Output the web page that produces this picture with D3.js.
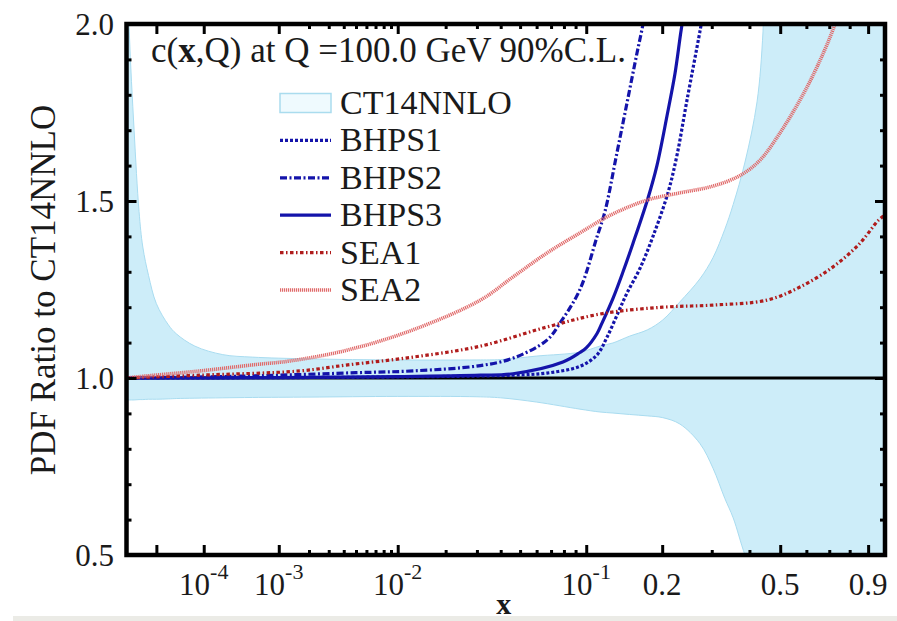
<!DOCTYPE html>
<html>
<head>
<meta charset="utf-8">
<script src="https://cdn.jsdelivr.net/npm/d3@7"></script>
<style>
  body { margin: 0; background: #fff; }
</style>
</head>
<body>
<svg id="chart" width="897" height="621"></svg>
<script>
// CT14NNLO 90% C.L. band (upper / lower edge), ratio to central fit
const bandX = [1e-6, 1.3e-6, 2e-6, 3e-6, 4e-6, 6e-6, 1e-5, 2e-5, 3e-5, 7e-5, 2e-4, 5e-4, 2e-3, 0.01, 0.03, 0.04, 0.06,
  0.094, 0.114, 0.129, 0.15, 0.176, 0.201, 0.232, 0.273, 0.303, 0.332, 0.354, 0.387, 0.423, 0.442, 0.452, 0.5, 1.0];
const bandUpper = [2.30, 1.98, 1.70, 1.47, 1.37, 1.29, 1.21, 1.15, 1.125, 1.09, 1.066, 1.059, 1.054, 1.051, 1.051, 1.052, 1.062,
  1.073, 1.090, 1.099, 1.118, 1.136, 1.164, 1.215, 1.28, 1.34, 1.42, 1.49, 1.61, 1.78, 1.98, 2.3, 2.3, 2.3];
const bandLower = [0.938, 0.938, 0.938, 0.939, 0.939, 0.940, 0.940, 0.941, 0.942, 0.943, 0.944, 0.945, 0.946, 0.948, 0.947, 0.944, 0.932,
  0.912, 0.904, 0.901, 0.897, 0.893, 0.888, 0.870, 0.815, 0.745, 0.66, 0.605, 0.50, 0.42, 0.38, 0.36, 0.30, 0.30];

const bhps1X = [1e-6, 1e-3, 0.01, 0.046, 0.067, 0.094, 0.1109, 0.122, 0.1364, 0.1468, 0.165, 0.1848, 0.21, 0.2266, 0.246, 0.2733, 0.2845];
const bhps1Y = [1.0, 1.001, 1.003, 1.008, 1.014, 1.033, 1.065, 1.115, 1.19, 1.24, 1.31, 1.40, 1.523, 1.63, 1.785, 1.98, 2.06];

const bhps2X = [1e-6, 1e-4, 1e-3, 5e-3, 0.0126, 0.0313, 0.0461, 0.067, 0.0768, 0.094, 0.1109, 0.1197, 0.1339, 0.1468, 0.1606, 0.1694, 0.18];
const bhps2Y = [1.0, 1.003, 1.008, 1.015, 1.02, 1.035, 1.056, 1.107, 1.155, 1.25, 1.398, 1.47, 1.636, 1.777, 1.918, 2.0, 2.12];

const bhps3X = [1e-6, 1e-3, 0.01, 0.0313, 0.0461, 0.0792, 0.094, 0.1, 0.1109, 0.1164, 0.1291, 0.1416, 0.1549, 0.1769, 0.1912, 0.2083, 0.2228, 0.2342, 0.2421];
const bhps3Y = [1.0, 1.001, 1.004, 1.008, 1.012, 1.045, 1.072, 1.085, 1.125, 1.155, 1.225, 1.30, 1.38, 1.508, 1.60, 1.74, 1.86, 1.98, 2.05];

const sea1X = [1e-6, 8.6e-5, 1.64e-3, 4.3e-3, 0.0126, 0.0313, 0.067, 0.117, 0.201, 0.303, 0.455, 0.574, 0.718, 0.855, 0.961, 1.0];
const sea1Y = [1.0, 1.008, 1.02, 1.037, 1.059, 1.09, 1.144, 1.182, 1.200, 1.206, 1.22, 1.257, 1.314, 1.381, 1.446, 1.46];

const sea2X = [1e-6, 3.2e-6, 8.6e-5, 5.5e-4, 1.3e-3, 4.3e-3, 0.0126, 0.0313, 0.046, 0.067, 0.094, 0.122, 0.151, 0.18, 0.232,
  0.303, 0.373, 0.432, 0.499, 0.574, 0.645, 0.727, 0.8];
const sea2Y = [1.0, 1.004, 1.02, 1.038, 1.048, 1.079, 1.136, 1.22, 1.285, 1.353, 1.41, 1.455, 1.485, 1.505, 1.523,
  1.542, 1.572, 1.615, 1.692, 1.785, 1.879, 2.0, 2.15];

const xMajorTicks = [1e-5, 1e-4, 1e-3, 1e-2, 0.1, 0.2, 0.5, 0.9];
const xMinorTicks = [2e-3, 3e-3, 4e-3, 5e-3, 6e-3, 7e-3, 8e-3, 9e-3, 0.02, 0.03, 0.04, 0.05, 0.06, 0.07, 0.08, 0.09, 0.3, 0.4, 0.6, 0.7, 0.8];
const xLabelValues = [1e-4, 1e-3, 1e-2, 0.1, 0.2, 0.5, 0.9];
const xLabelBase = ["10", "10", "10", "10", "0.2", "0.5", "0.9"];
const xLabelExp = ["-4", "-3", "-2", "-1", "", "", ""];
const yMajorTicks = [0.5, 1.0, 1.5, 2.0];
const yMinorTicks = [0.6, 0.7, 0.8, 0.9, 1.1, 1.2, 1.3, 1.4, 1.6, 1.7, 1.8, 1.9];

const serif = "'Liberation Serif', 'DejaVu Serif', 'Noto Serif', Tinos, 'Times New Roman', Times, 'Nimbus Roman', FreeSerif, serif";
const svg = d3.select("#chart").style("font-family", serif);
const margin = { left: 126.5, right: 885, top: 24, bottom: 555 };

const x = d3.scalePow().exponent(0.2).domain([1e-6, 1]).range([margin.left, margin.right]);
const y = d3.scaleLinear().domain([0.5, 2.0]).range([margin.bottom, margin.top]);

svg.append("defs").append("clipPath").attr("id", "plotClip").append("rect")
  .attr("x", margin.left).attr("y", margin.top).attr("width", margin.right - margin.left).attr("height", margin.bottom - margin.top);

const plot = svg.append("g").attr("clip-path", "url(#plotClip)");

const area = d3.area().x((d, i) => x(bandX[i])).y0((d, i) => y(bandLower[i])).y1((d, i) => y(bandUpper[i]))
  .curve(d3.curveCatmullRom.alpha(0.5));
plot.append("path").attr("d", area(bandX)).attr("fill", "#cdedf9").attr("stroke", "#a9dcf0").attr("stroke-width", 1);

// reference line at 1
plot.append("line").attr("x1", margin.left).attr("x2", margin.right).attr("y1", y(1)).attr("y2", y(1))
  .attr("stroke", "#000").attr("stroke-width", 3);

const series = [
  { name: "BHPS1", xs: bhps1X, ys: bhps1Y, color: "#1414aa", width: 3.2, dash: "3,2" },
  { name: "BHPS2", xs: bhps2X, ys: bhps2Y, color: "#1414aa", width: 3.2, dash: "7,2.5,2,2.5" },
  { name: "BHPS3", xs: bhps3X, ys: bhps3Y, color: "#1414aa", width: 3.2, dash: null },
  { name: "SEA1", xs: sea1X, ys: sea1Y, color: "#b01c1c", width: 3.2, dash: "3.5,2.5,1.5,2.5" },
  { name: "SEA2", xs: sea2X, ys: sea2Y, color: "#e06a6a", width: 3.6, dash: "1.2,0.8" }
];

const line = d3.line().x(d => x(d[0])).y(d => y(d[1])).curve(d3.curveCatmullRom.alpha(0.5));
series.forEach(s => {
  plot.append("path").attr("d", line(d3.zip(s.xs, s.ys))).attr("fill", "none")
    .attr("stroke", s.color).attr("stroke-width", s.width).attr("stroke-dasharray", s.dash);
});

// ticks on all four sides, pointing inward
function drawTicks(axis, values, size, transform) {
  const g = svg.append("g").attr("transform", transform)
    .call(axis.tickValues(values).tickSize(-size).tickFormat(""));
  g.select(".domain").remove();
  g.selectAll(".tick line").attr("stroke", "#000").attr("stroke-width", 3);
}
drawTicks(d3.axisBottom(x), xMajorTicks, 10, `translate(0,${margin.bottom})`);
drawTicks(d3.axisBottom(x), xMinorTicks, 5, `translate(0,${margin.bottom})`);
drawTicks(d3.axisTop(x), xMajorTicks, 10, `translate(0,${margin.top})`);
drawTicks(d3.axisTop(x), xMinorTicks, 5, `translate(0,${margin.top})`);
drawTicks(d3.axisLeft(y), yMajorTicks, 10, `translate(${margin.left},0)`);
drawTicks(d3.axisLeft(y), yMinorTicks, 5, `translate(${margin.left},0)`);
drawTicks(d3.axisRight(y), yMajorTicks, 10, `translate(${margin.right},0)`);
drawTicks(d3.axisRight(y), yMinorTicks, 5, `translate(${margin.right},0)`);

// frame
svg.append("rect").attr("x", margin.left).attr("y", margin.top)
  .attr("width", margin.right - margin.left).attr("height", margin.bottom - margin.top)
  .attr("fill", "none").attr("stroke", "#000").attr("stroke-width", 4.5);

// tick labels
xLabelValues.forEach((v, i) => {
  const t = svg.append("text").attr("x", x(v)).attr("y", 595).attr("text-anchor", "middle")
    .attr("font-family", serif).attr("fill", "#1a1a1a").style("font-size", "31px");
  t.append("tspan").text(xLabelBase[i]);
  if (xLabelExp[i]) t.append("tspan").attr("dy", -16).style("font-size", "22px").text(xLabelExp[i]);
});
svg.selectAll(".ylab").data(yMajorTicks).enter().append("text").attr("class", "ylab")
  .attr("x", 114).attr("y", d => y(d)).attr("dy", "0.35em").attr("text-anchor", "end")
  .attr("font-family", serif).attr("fill", "#1a1a1a").style("font-size", "31px").text(d => d.toFixed(1));

svg.append("text").attr("x", (margin.left + margin.right) / 2 - 2).attr("y", 614).attr("text-anchor", "middle")
  .attr("font-family", serif).attr("fill", "#1a1a1a").style("font-size", "30px").style("font-weight", "bold").text("x");
// light grey strip along the bottom edge of the picture
svg.append("rect").attr("x", 13).attr("y", 616).attr("width", 884).attr("height", 5).attr("fill", "#ebebe6");

svg.append("text").attr("transform", "translate(55,290) rotate(-90)")
  .attr("text-anchor", "middle").attr("font-family", serif).attr("fill", "#1a1a1a")
  .style("font-size", "35px").text("PDF Ratio to CT14NNLO");

// title
const title = svg.append("text").attr("x", 151).attr("y", 62).attr("font-family", serif).attr("fill", "#1a1a1a")
  .style("font-size", "35px");
title.append("tspan").text("c(");
title.append("tspan").style("font-weight", "bold").text("x");
title.append("tspan").text(",Q) at Q =100.0 GeV 90%C.L.");

// legend
const legendNames = ["CT14NNLO", "BHPS1", "BHPS2", "BHPS3", "SEA1", "SEA2"];
const legend = svg.append("g").attr("transform", "translate(280,103)");
legendNames.forEach((name, i) => {
  const row = legend.append("g").attr("transform", `translate(0,${i * 37.4})`);
  if (i === 0) {
    row.append("rect").attr("x", 0).attr("y", -9.5).attr("width", 51).attr("height", 19)
      .attr("fill", "#effafe").attr("stroke", "#aadcee").attr("stroke-width", 1.5);
  } else {
    const s = series[i - 1];
    row.append("line").attr("x1", 0).attr("x2", 51).attr("y1", 0).attr("y2", 0)
      .attr("stroke", s.color).attr("stroke-width", s.width).attr("stroke-dasharray", s.dash);
  }
  row.append("text").attr("x", 60).attr("y", 11).attr("font-family", serif).attr("fill", "#1a1a1a")
    .style("font-size", "34px").text(name);
});
</script>
</body>
</html>
